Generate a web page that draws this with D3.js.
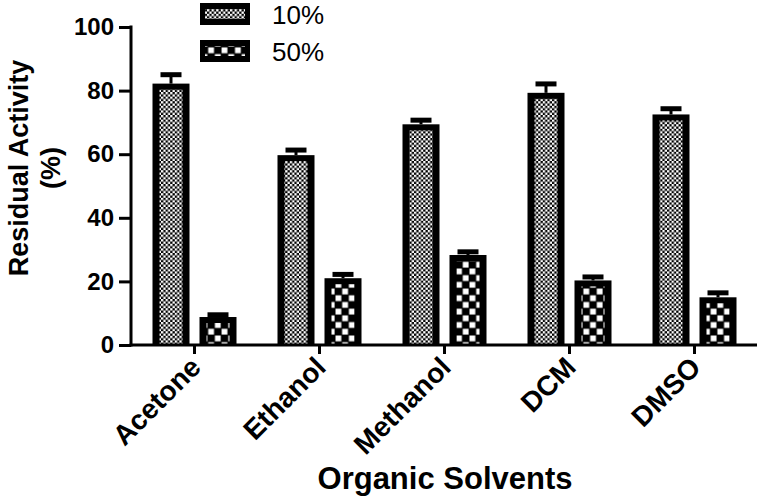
<!DOCTYPE html>
<html>
<head>
<meta charset="utf-8">
<script src="https://cdn.jsdelivr.net/npm/d3@7"></script>
<style>
  html, body { margin: 0; padding: 0; background: #fff; }
  svg { display: block; font-family: "Liberation Sans", Arial, sans-serif; }
</style>
</head>
<body>
<svg id="chart" width="764" height="499"></svg>
<script>
const categories = ["Acetone", "Ethanol", "Methanol", "DCM", "DMSO"];
const seriesNames = ["10%", "50%"];
const values10 = [82.2, 59.7, 69.4, 79.3, 72.5];
const errors10 = [2.8, 1.6, 1.3, 2.8, 1.8];
const values50 = [8.8, 21.0, 28.3, 20.3, 15.0];
const errors50 = [0.7, 1.2, 1.0, 1.1, 1.4];
const yTicks = [0, 20, 40, 60, 80, 100];

const svg = d3.select("#chart");
const defs = svg.append("defs");

// fine checkerboard for 10%
const p1 = defs.append("pattern").attr("id", "pat10").attr("patternUnits", "userSpaceOnUse")
  .attr("width", 4.6).attr("height", 4.6);
p1.append("rect").attr("width", 4.6).attr("height", 4.6).attr("fill", "#000");
p1.append("rect").attr("x", 0).attr("y", 0).attr("width", 2.3).attr("height", 2.3).attr("fill", "#fff");
p1.append("rect").attr("x", 2.3).attr("y", 2.3).attr("width", 2.3).attr("height", 2.3).attr("fill", "#fff");

// coarse checkerboard for 50%
const p2 = defs.append("pattern").attr("id", "pat50").attr("patternUnits", "userSpaceOnUse")
  .attr("width", 13.4).attr("height", 13.4);
p2.append("rect").attr("width", 13.4).attr("height", 13.4).attr("fill", "#000");
p2.append("rect").attr("x", 0.5).attr("y", 0.5).attr("width", 5.8).attr("height", 5.8).attr("fill", "#fff");
p2.append("rect").attr("x", 7.2).attr("y", 7.2).attr("width", 5.8).attr("height", 5.8).attr("fill", "#fff");

const x0 = d3.scaleBand().domain(categories).range([132, 757]);
const y = d3.scaleLinear().domain([0, 100]).range([345, 27]);

const barW = 37, gap = 10;
const offsets = [-(gap / 2 + barW), gap / 2];
const border = 6;

const data = [];
categories.forEach((c, i) => {
  data.push({ cat: c, s: 0, v: values10[i], e: errors10[i] });
  data.push({ cat: c, s: 1, v: values50[i], e: errors50[i] });
});

const g = svg.append("g");

// error bars (upper only visible)
data.forEach(d => {
  const cx = x0(d.cat) + x0.bandwidth() / 2 + offsets[d.s] + barW / 2;
  g.append("line").attr("x1", cx).attr("x2", cx)
    .attr("y1", y(d.v)).attr("y2", y(d.v + d.e))
    .attr("stroke", "#000").attr("stroke-width", 3);
  g.append("line").attr("x1", cx - 10.5).attr("x2", cx + 10.5)
    .attr("y1", y(d.v + d.e)).attr("y2", y(d.v + d.e))
    .attr("stroke", "#000").attr("stroke-width", 5);
});

// bars
data.forEach(d => {
  const bx = x0(d.cat) + x0.bandwidth() / 2 + offsets[d.s];
  const top = y(d.v), h = y(0) - y(d.v);
  g.append("rect").attr("x", bx).attr("y", top).attr("width", barW).attr("height", h).attr("fill", "#000");
  if (h > border) {
    g.append("rect").attr("x", bx + border + 1).attr("y", top + border)
      .attr("width", barW - 2 * border - 2).attr("height", Math.max(0, h - border))
      .attr("fill", d.s === 0 ? "url(#pat10)" : "url(#pat50)");
  }
});

// y axis
const yAxis = d3.axisLeft(y).tickValues(yTicks).tickSize(12).tickSizeOuter(0).tickPadding(5);
const gy = svg.append("g").attr("transform", "translate(131,0)").call(yAxis);
gy.select(".domain").attr("stroke-width", 3).attr("d", `M0,${y(100) - 1.5}V${y(0) + 1.5}`);
gy.selectAll(".tick line").attr("stroke-width", 3);
gy.selectAll(".tick text").attr("font-size", 24).attr("font-weight", "bold").attr("fill", "#000")
  .attr("font-family", "Liberation Sans, Arial, sans-serif");

// x axis
const xAxis = d3.axisBottom(x0).tickSize(9).tickSizeOuter(0).tickFormat("");
const gx = svg.append("g").attr("transform", "translate(0,345)").call(xAxis);
gx.select(".domain").attr("stroke-width", 3).attr("d", "M129.5,0H757");
gx.selectAll(".tick line").attr("stroke-width", 3);

// rotated x labels
svg.append("g").selectAll("text").data(categories).join("text")
  .attr("transform", d => `translate(${x0(d) + x0.bandwidth() / 2 + 8},369) rotate(-45)`)
  .attr("text-anchor", "end")
  .attr("font-size", 28).attr("font-weight", "bold").attr("fill", "#000")
  .text(d => d);

// axis titles
svg.append("text").attr("transform", "translate(28,168) rotate(-90)")
  .attr("text-anchor", "middle").attr("font-size", 27).attr("font-weight", "bold").text("Residual Activity");
svg.append("text").attr("transform", "translate(60,168) rotate(-90)")
  .attr("text-anchor", "middle").attr("font-size", 27).attr("font-weight", "bold").text("(%)");
svg.append("text").attr("x", 445).attr("y", 489)
  .attr("text-anchor", "middle").attr("font-size", 31).attr("font-weight", "bold").text("Organic Solvents");

// legend
const lg = svg.append("g");
seriesNames.forEach((name, i) => {
  const ly = 3 + i * 37;
  lg.append("rect").attr("x", 200).attr("y", ly).attr("width", 50).attr("height", 22).attr("fill", "#000");
  lg.append("rect").attr("x", 205).attr("y", ly + 6).attr("width", 40).attr("height", 10)
    .attr("fill", i === 0 ? "url(#pat10)" : "url(#pat50)");
  lg.append("text").attr("x", 272).attr("y", ly + 21).attr("font-size", 26).attr("fill", "#000").text(name);
});
</script>
</body>
</html>
